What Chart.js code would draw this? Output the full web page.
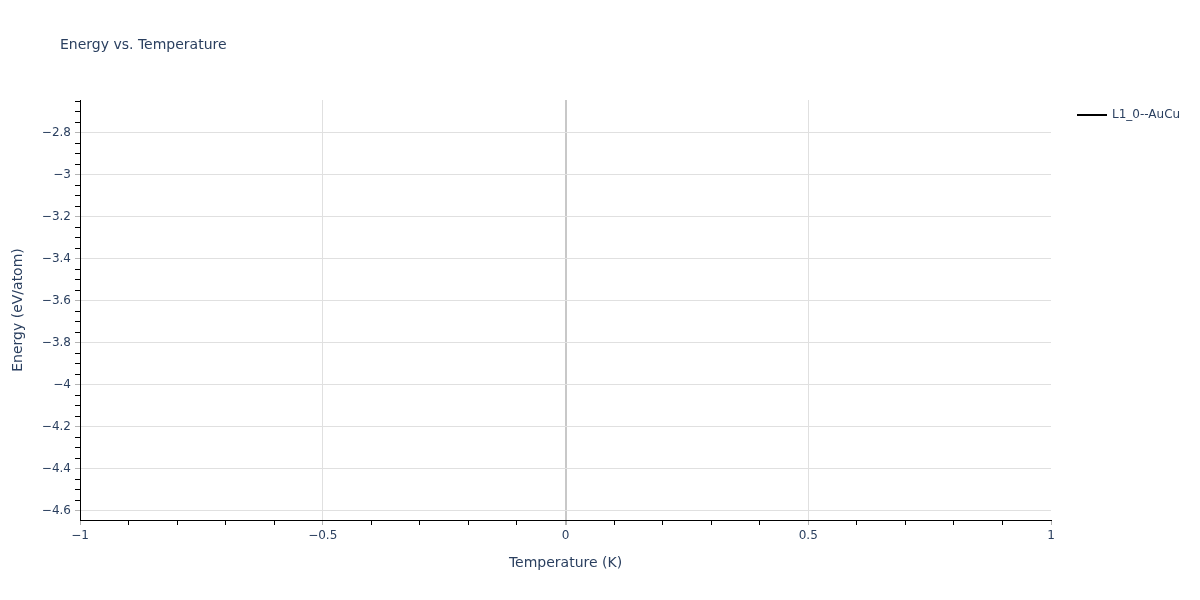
<!DOCTYPE html>
<html>
<head>
<meta charset="utf-8">
<title>Energy vs. Temperature</title>
<script src="https://cdn.jsdelivr.net/npm/chart.js@4.4.1/dist/chart.umd.min.js"></script>
<style>
  html, body { margin: 0; padding: 0; background: #fff; }
  #wrap { width: 1200px; height: 600px; position: relative; }
</style>
</head>
<body>
<div id="wrap"><canvas id="chart"></canvas></div>
<script>
// data: a single point, drawn as a line, so nothing shows in the plot
const chartTitle = 'Energy vs. Temperature';
const seriesName = 'L1_0--AuCu';
const temperatures = [0];
const energies = [-3.643];

// axes
const xRange = [-1, 1];
const yRange = [-4.643, -2.643];
const xMajorTicks = [-1, -0.5, 0, 0.5, 1];
const yMajorTicks = [-4.6, -4.4, -4.2, -4, -3.8, -3.6, -3.4, -3.2, -3, -2.8];
const xMinorStep = 0.1;
const yMinorStep = 0.05;

const FONT = '"DejaVu Sans", Verdana, sans-serif';
const TEXT = '#2a3f5f';
const GRID = '#e0e0e0';
const ZERO = '#c8c8c8';
const MAJOR_TICK = '#b4b4b4';

const isMajor = (v, majors) => majors.some((m) => Math.abs(m - v) < 1e-6);

// major + minor tick positions for one axis
function buildTicks(range, majors, step) {
  const vals = majors.slice();
  const start = Math.ceil(range[0] / step - 1e-9);
  const end = Math.floor(range[1] / step + 1e-9);
  for (let i = start; i <= end; i++) {
    const v = Math.round(i * step * 1e6) / 1e6;
    if (!isMajor(v, majors)) vals.push(v);
  }
  return vals.sort((a, b) => a - b).map((value) => ({ value }));
}

const fmt = (v) => {
  const r = Math.round(v * 1e6) / 1e6;
  return r < 0 ? '\u2212' + String(Math.abs(r)) : String(r);
};

// title and legend, placed like plotly does
const plotlyExtras = {
  id: 'plotlyExtras',
  afterDraw(chart) {
    const { ctx, chartArea } = chart;
    ctx.save();
    ctx.fillStyle = TEXT;
    ctx.textBaseline = 'middle';
    ctx.font = '14px ' + FONT;
    ctx.fillText(chartTitle, chartArea.left - 20, 45);

    const ds = chart.data.datasets[0];
    const lx = chartArea.right + 26;
    const ly = chartArea.top + 15;
    ctx.strokeStyle = ds.borderColor;
    ctx.lineWidth = 2;
    ctx.beginPath();
    ctx.moveTo(lx, ly);
    ctx.lineTo(lx + 30, ly);
    ctx.stroke();
    ctx.font = '12px ' + FONT;
    ctx.fillText(ds.label, lx + 35, ly);
    ctx.restore();
  },
};

const ctx = document.getElementById('chart').getContext('2d');
new Chart(ctx, {
  type: 'line',
  data: {
    datasets: [
      {
        label: seriesName,
        data: temperatures.map((t, i) => ({ x: t, y: energies[i] })),
        borderColor: '#000000',
        backgroundColor: '#000000',
        borderWidth: 2,
        pointRadius: 0,
        fill: false,
      },
    ],
  },
  plugins: [plotlyExtras],
  options: {
    responsive: true,
    maintainAspectRatio: false,
    animation: false,
    layout: { padding: { top: 100, right: 149, bottom: 0, left: 0 } },
    plugins: {
      legend: { display: false },
      title: { display: false },
      tooltip: { enabled: false },
    },
    scales: {
      x: {
        type: 'linear',
        min: xRange[0],
        max: xRange[1],
        afterBuildTicks: (scale) => {
          scale.ticks = buildTicks(xRange, xMajorTicks, xMinorStep);
        },
        afterFit: (scale) => {
          scale.height = 80;
        },
        ticks: {
          autoSkip: false,
          maxRotation: 0,
          padding: 4,
          color: TEXT,
          font: { family: FONT, size: 12 },
          callback: (v) => (isMajor(v, xMajorTicks) ? fmt(v) : ''),
        },
        grid: {
          tickLength: 5,
          color: (c) => {
            const v = c.tick ? c.tick.value : NaN;
            if (!isMajor(v, xMajorTicks)) return 'rgba(0,0,0,0)';
            if (Math.abs(v) === 1) return 'rgba(0,0,0,0)';
            return v === 0 ? ZERO : GRID;
          },
          lineWidth: (c) => (c.tick && c.tick.value === 0 ? 2 : 1),
          tickColor: (c) => (c.tick && isMajor(c.tick.value, xMajorTicks) ? MAJOR_TICK : '#000000'),
          tickWidth: (c) => (c.tick && c.tick.value === 0 ? 2 : 1),
        },
        border: { display: true, color: '#000000', width: 1 },
        title: {
          display: true,
          text: 'Temperature (K)',
          color: TEXT,
          font: { family: FONT, size: 14 },
          padding: { top: 0, bottom: 28.6 },
        },
      },
      y: {
        type: 'linear',
        min: yRange[0],
        max: yRange[1],
        afterBuildTicks: (scale) => {
          scale.ticks = buildTicks(yRange, yMajorTicks, yMinorStep);
        },
        afterFit: (scale) => {
          scale.width = 80;
        },
        ticks: {
          autoSkip: false,
          padding: 4,
          color: TEXT,
          font: { family: FONT, size: 12 },
          callback: (v) => (isMajor(v, yMajorTicks) ? fmt(v) : ''),
        },
        grid: {
          tickLength: 5,
          color: (c) => (c.tick && isMajor(c.tick.value, yMajorTicks) ? GRID : 'rgba(0,0,0,0)'),
          tickColor: (c) => (c.tick && isMajor(c.tick.value, yMajorTicks) ? MAJOR_TICK : '#000000'),
          lineWidth: 1,
        },
        border: { display: true, color: '#000000', width: 1 },
        title: {
          display: true,
          text: 'Energy (eV/atom)',
          color: TEXT,
          font: { family: FONT, size: 14 },
          padding: { top: 9.6, bottom: 0 },
        },
      },
    },
  },
});
</script>
</body>
</html>
